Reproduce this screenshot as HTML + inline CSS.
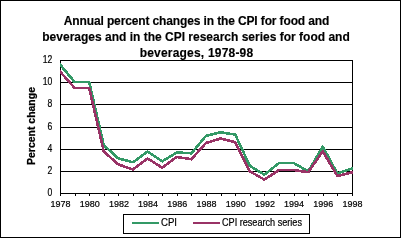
<!DOCTYPE html>
<html><head><meta charset="utf-8"><style>
html,body{margin:0;padding:0;background:#fff;}
body{width:401px;height:238px;overflow:hidden;position:relative;}
svg{position:absolute;left:0;top:0;will-change:transform;}
text{font-family:"Liberation Sans",sans-serif;}
</style></head><body>
<svg width="401" height="238" viewBox="0 0 401 238">
<rect x="0.5" y="0.5" width="400" height="237" fill="#fff" stroke="#000" stroke-width="1" shape-rendering="crispEdges"/>
<g font-weight="bold" font-size="12" text-anchor="middle" fill="#000" stroke="#000" stroke-width="0.15">
<text x="196.5" y="25" letter-spacing="-0.13">Annual percent changes in the CPI for food and</text>
<text x="196" y="41">beverages and in the CPI research series for food and</text>
<text x="196.5" y="57" letter-spacing="0.2">beverages, 1978-98</text>
</g>
<g shape-rendering="crispEdges" stroke="#000" stroke-width="1">
<line x1="60" y1="60.5" x2="353" y2="60.5"/><line x1="60" y1="82.5" x2="353" y2="82.5"/><line x1="60" y1="104.5" x2="353" y2="104.5"/><line x1="60" y1="127.5" x2="353" y2="127.5"/><line x1="60" y1="149.5" x2="353" y2="149.5"/><line x1="60" y1="171.5" x2="353" y2="171.5"/><line x1="352.5" y1="60" x2="352.5" y2="193"/><line x1="60.5" y1="60" x2="60.5" y2="196"/><line x1="60" y1="193.5" x2="353" y2="193.5"/><line x1="60.5" y1="193" x2="60.5" y2="196"/><line x1="75.5" y1="193" x2="75.5" y2="196"/><line x1="89.5" y1="193" x2="89.5" y2="196"/><line x1="104.5" y1="193" x2="104.5" y2="196"/><line x1="118.5" y1="193" x2="118.5" y2="196"/><line x1="133.5" y1="193" x2="133.5" y2="196"/><line x1="148.5" y1="193" x2="148.5" y2="196"/><line x1="162.5" y1="193" x2="162.5" y2="196"/><line x1="177.5" y1="193" x2="177.5" y2="196"/><line x1="191.5" y1="193" x2="191.5" y2="196"/><line x1="206.5" y1="193" x2="206.5" y2="196"/><line x1="221.5" y1="193" x2="221.5" y2="196"/><line x1="235.5" y1="193" x2="235.5" y2="196"/><line x1="250.5" y1="193" x2="250.5" y2="196"/><line x1="264.5" y1="193" x2="264.5" y2="196"/><line x1="279.5" y1="193" x2="279.5" y2="196"/><line x1="294.5" y1="193" x2="294.5" y2="196"/><line x1="308.5" y1="193" x2="308.5" y2="196"/><line x1="323.5" y1="193" x2="323.5" y2="196"/><line x1="337.5" y1="193" x2="337.5" y2="196"/><line x1="352.5" y1="193" x2="352.5" y2="196"/>
</g>
<defs><clipPath id="pc"><rect x="60" y="50" width="293" height="150"/></clipPath></defs>
<g clip-path="url(#pc)" shape-rendering="crispEdges" fill="none" stroke-width="2.6" stroke-linejoin="round">
<polyline points="59.00,63.29 60.00,64.49 74.60,82.00 89.20,82.00 103.80,145.29 118.40,158.48 133.00,162.25 147.60,151.49 162.20,161.36 176.80,152.49 191.40,153.27 206.00,135.87 220.60,132.32 235.20,134.54 249.80,165.79 264.40,174.66 279.00,163.02 293.60,163.02 308.20,171.33 322.80,146.73 337.40,173.55 352.00,168.45 353.00,168.10" stroke="#339966"/>
<polyline points="59.00,70.46 60.00,71.58 74.60,87.99 89.20,87.99 103.80,151.61 118.40,164.46 133.00,169.45 147.60,158.48 162.20,167.68 176.80,156.93 191.40,159.25 206.00,142.96 220.60,138.53 235.20,142.29 249.80,171.33 264.40,179.65 279.00,170.00 293.60,170.00 308.20,172.22 322.80,151.38 337.40,175.99 352.00,172.33 353.00,172.08" stroke="#993366"/>
</g>
<g font-size="10" fill="#000" text-anchor="end" stroke="#000" stroke-width="0.2">
<text transform="translate(52.4,196.4) scale(0.86,1)" x="0" y="0">0</text><text transform="translate(52.4,174.4) scale(0.86,1)" x="0" y="0">2</text><text transform="translate(52.4,152.4) scale(0.86,1)" x="0" y="0">4</text><text transform="translate(52.4,130.4) scale(0.86,1)" x="0" y="0">6</text><text transform="translate(52.4,107.4) scale(0.86,1)" x="0" y="0">8</text><text transform="translate(52.4,85.4) scale(0.86,1)" x="0" y="0">10</text><text transform="translate(52.4,63.4) scale(0.86,1)" x="0" y="0">12</text>
</g>
<g font-size="9" fill="#000" text-anchor="middle" stroke="#000" stroke-width="0.2">
<text x="60.5" y="207">1978</text><text x="89.7" y="207">1980</text><text x="118.9" y="207">1982</text><text x="148.1" y="207">1984</text><text x="177.3" y="207">1986</text><text x="206.5" y="207">1988</text><text x="235.7" y="207">1990</text><text x="264.9" y="207">1992</text><text x="294.1" y="207">1994</text><text x="323.3" y="207">1996</text><text x="352.5" y="207">1998</text>
</g>
<text transform="translate(35,126) rotate(-90)" x="0" y="0" font-size="10" font-weight="bold" text-anchor="middle" stroke="#000" stroke-width="0.25" textLength="78" lengthAdjust="spacingAndGlyphs">Percent change</text>
<rect x="123.5" y="214.5" width="186" height="19" fill="#fff" stroke="#000" stroke-width="1" shape-rendering="crispEdges"/>
<rect x="132" y="222" width="27" height="2" fill="#339966"/>
<text x="161" y="226" font-size="10" stroke="#000" stroke-width="0.2" textLength="16" lengthAdjust="spacingAndGlyphs">CPI</text>
<rect x="193" y="222" width="27" height="2" fill="#993366"/>
<text x="222" y="226" font-size="10" stroke="#000" stroke-width="0.2" textLength="80" lengthAdjust="spacingAndGlyphs">CPI research series</text>
</svg>
</body></html>
